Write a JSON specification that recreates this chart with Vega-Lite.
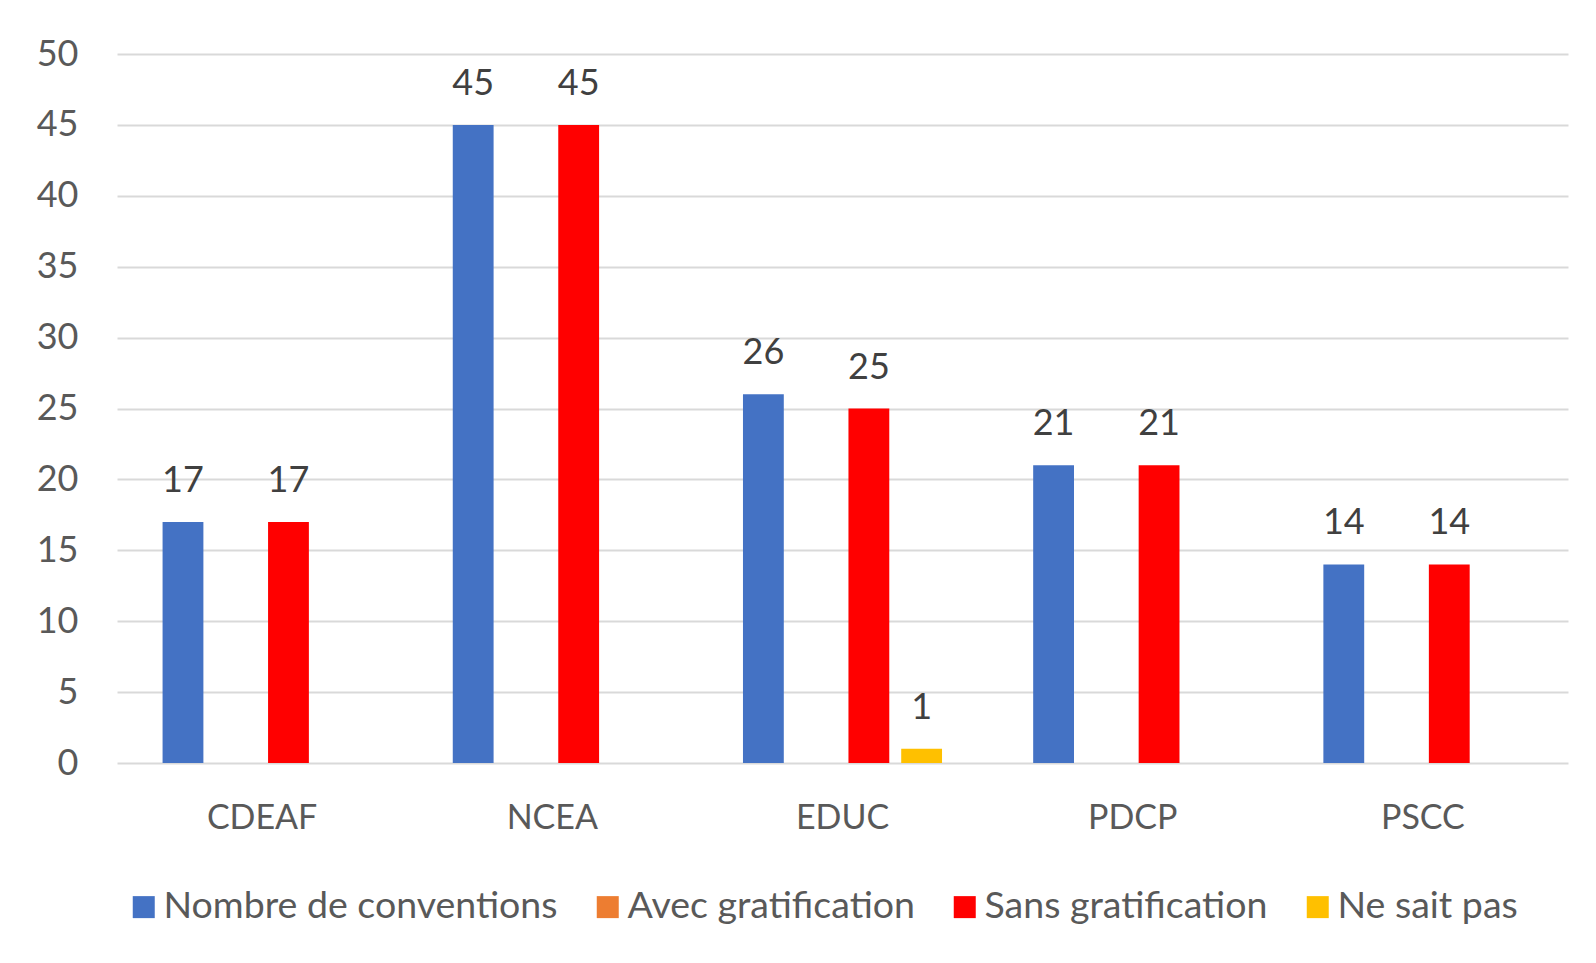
{
  "$schema": "https://vega.github.io/schema/vega-lite/v6.json",
  "width": 1451,
  "height": 709,
  "autosize": {"type": "none"},
  "padding": {"left": 117, "top": 54, "right": 28, "bottom": 200},
  "background": "white",
  "config": {
    "view": {"stroke": null},
    "font": "Lato",
    "axis": {"labelFont": "Lato", "labelColor": "#595959"},
    "legend": {"labelFont": "Lato", "labelColor": "#595959"}
  },
  "data": {
    "values": [
      {"filiere": "CDEAF", "serie": "Nombre de conventions", "valeur": 17},
      {"filiere": "CDEAF", "serie": "Avec gratification", "valeur": 0},
      {"filiere": "CDEAF", "serie": "Sans gratification", "valeur": 17},
      {"filiere": "CDEAF", "serie": "Ne sait pas", "valeur": 0},
      {"filiere": "NCEA", "serie": "Nombre de conventions", "valeur": 45},
      {"filiere": "NCEA", "serie": "Avec gratification", "valeur": 0},
      {"filiere": "NCEA", "serie": "Sans gratification", "valeur": 45},
      {"filiere": "NCEA", "serie": "Ne sait pas", "valeur": 0},
      {"filiere": "EDUC", "serie": "Nombre de conventions", "valeur": 26},
      {"filiere": "EDUC", "serie": "Avec gratification", "valeur": 0},
      {"filiere": "EDUC", "serie": "Sans gratification", "valeur": 25},
      {"filiere": "EDUC", "serie": "Ne sait pas", "valeur": 1},
      {"filiere": "PDCP", "serie": "Nombre de conventions", "valeur": 21},
      {"filiere": "PDCP", "serie": "Avec gratification", "valeur": 0},
      {"filiere": "PDCP", "serie": "Sans gratification", "valeur": 21},
      {"filiere": "PDCP", "serie": "Ne sait pas", "valeur": 0},
      {"filiere": "PSCC", "serie": "Nombre de conventions", "valeur": 14},
      {"filiere": "PSCC", "serie": "Avec gratification", "valeur": 0},
      {"filiere": "PSCC", "serie": "Sans gratification", "valeur": 14},
      {"filiere": "PSCC", "serie": "Ne sait pas", "valeur": 0}
    ]
  },
  "encoding": {
    "x": {
      "field": "filiere",
      "type": "nominal",
      "sort": ["CDEAF", "NCEA", "EDUC", "PDCP", "PSCC"],
      "scale": {"paddingInner": 0.273, "paddingOuter": 0.1365},
      "axis": {
        "title": null,
        "labelAngle": 0,
        "labelFontSize": 34,
        "labelPadding": 38,
        "ticks": false,
        "domain": false,
        "grid": false
      }
    },
    "xOffset": {
      "field": "serie",
      "type": "nominal",
      "sort": ["Nombre de conventions", "Avec gratification", "Sans gratification", "Ne sait pas"],
      "scale": {"paddingInner": 0.226, "paddingOuter": 0.113}
    },
    "y": {
      "field": "valeur",
      "type": "quantitative",
      "scale": {"domain": [0, 50], "nice": false},
      "axis": {
        "title": null,
        "values": [0, 5, 10, 15, 20, 25, 30, 35, 40, 45, 50],
        "labelFontSize": 36,
        "labelPadding": 39,
        "ticks": false,
        "domain": false,
        "grid": true,
        "gridColor": "#d9d9d9",
        "gridWidth": 2
      }
    }
  },
  "layer": [
    {
      "mark": {"type": "bar"},
      "encoding": {
        "color": {
          "field": "serie",
          "type": "nominal",
          "scale": {
            "domain": ["Nombre de conventions", "Avec gratification", "Sans gratification", "Ne sait pas"],
            "range": ["#4472C4", "#ED7D31", "#FF0000", "#FFC000"]
          },
          "legend": {
            "title": null,
            "orient": "none",
            "direction": "horizontal",
            "legendX": 8,
            "legendY": 834,
            "padding": 0,
            "symbolType": "square",
            "symbolSize": 484,
            "symbolStrokeWidth": 0,
            "labelFontSize": 37.5,
            "labelOffset": 1,
            "columnPadding": 31,
            "labelLimit": 1000
          }
        }
      }
    },
    {
      "transform": [{"filter": "datum.valeur > 0"}],
      "mark": {"type": "text", "baseline": "alphabetic", "dy": -30, "fontSize": 36, "color": "#404040", "font": "Lato"},
      "encoding": {
        "text": {"field": "valeur", "type": "quantitative"}
      }
    }
  ]
}
